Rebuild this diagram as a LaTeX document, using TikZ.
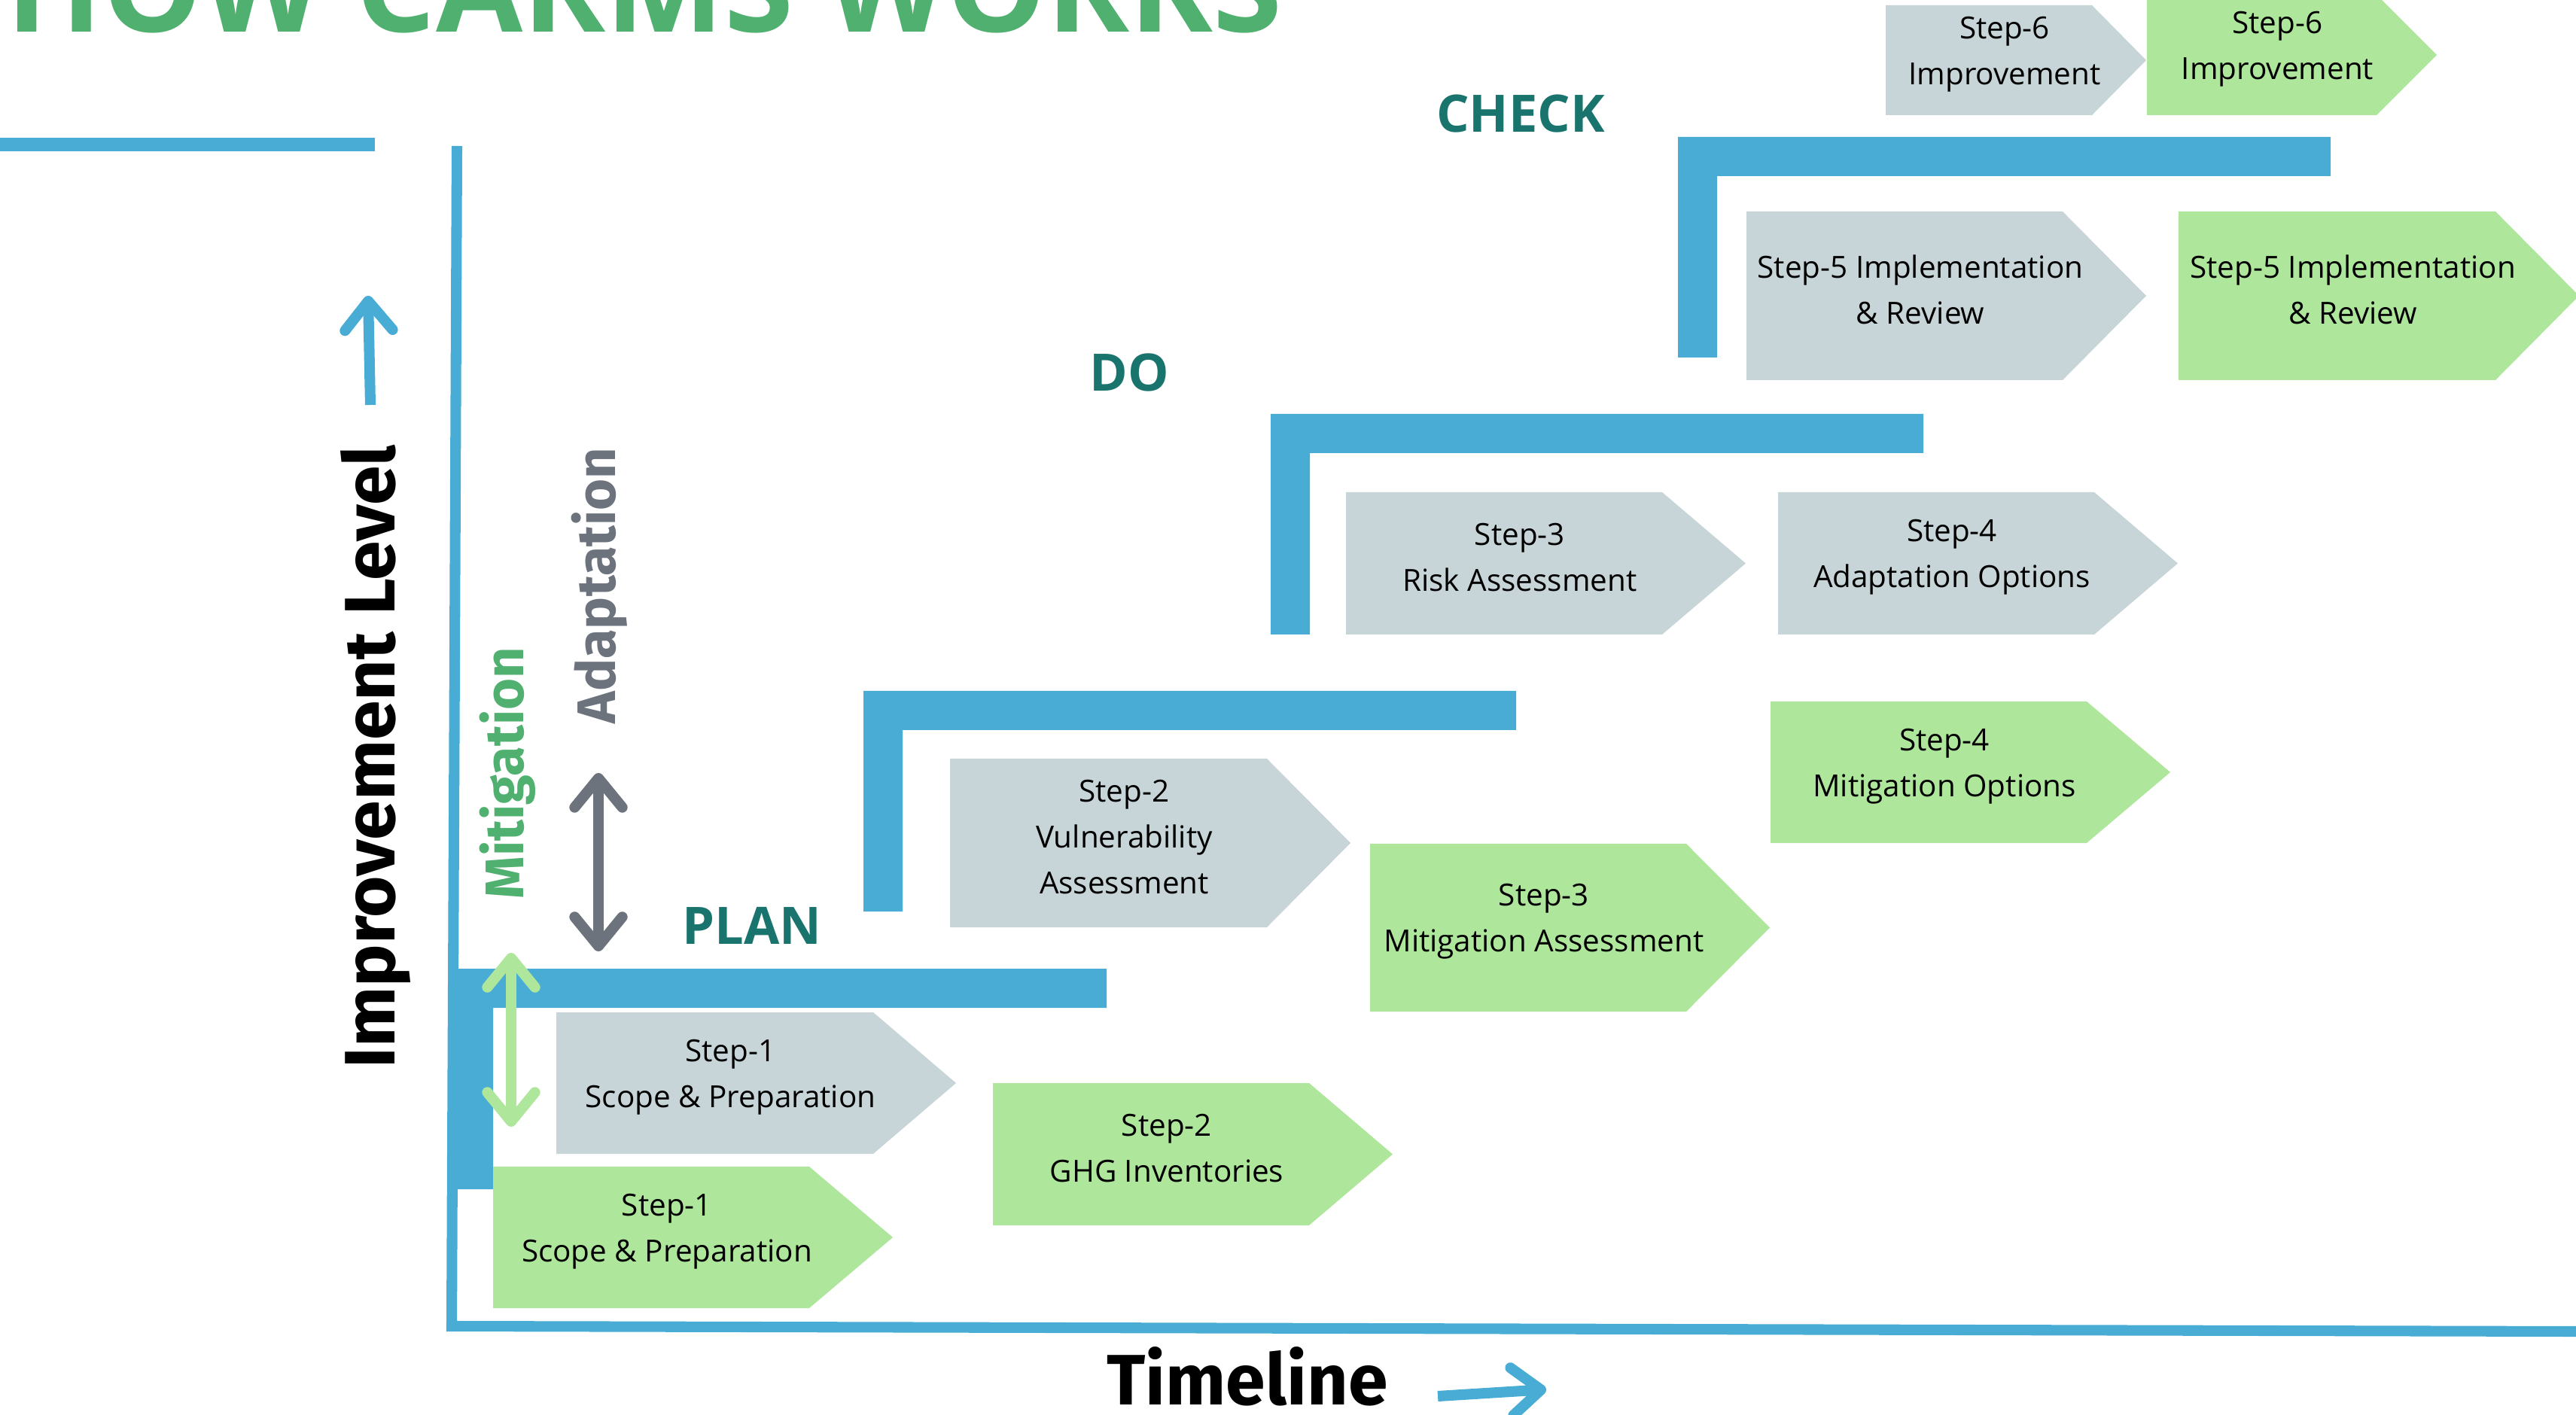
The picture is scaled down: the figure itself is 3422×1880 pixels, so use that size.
\documentclass[tikz,border=0pt]{standalone}
\usepackage{fontspec}
\setmainfont{Open Sans}
\newfontfamily\firafont{Fira Sans}
\usetikzlibrary{arrows.meta}

\definecolor{axisblue}{HTML}{48ACD4}
\definecolor{stepgray}{HTML}{C7D5D9}
\definecolor{stepgreen}{HTML}{AEE79C}
\definecolor{phaseteal}{HTML}{1A746E}
\definecolor{titlegreen}{HTML}{50B06F}
\definecolor{adaptgray}{HTML}{6D737D}

% chevron: name, left, top, body right, bottom, tip, fill, text
\newcommand{\stepchev}[8]{%
  \fill[#7] (#2,#3) -- (#4,#3) -- (#6,{(#3+#5)/2}) -- (#4,#5) -- (#2,#5) -- cycle;
  \node[steptext] (#1) at ({(#2+#4)/2+21},{(#3+#5)/2-8}) {#8};
}
% phase bracket from its top left corner
\newcommand{\phasebar}[2]{%
  \fill[axisblue] (#1,#2) -- ++(867,0) -- ++(0,52) -- ++(-815,0) -- ++(0,241) -- ++(-52,0) -- cycle;
}

\begin{document}
\begin{tikzpicture}[x=0.01cm,y=-0.01cm,
    steptext/.style={align=center,font=\fontsize{11.5}{17.4}\selectfont,inner sep=0pt},
    phase/.style={text=phaseteal,font=\fontsize{19.5}{23}\selectfont\bfseries,anchor=base,inner sep=0pt},
    axislabel/.style={font=\firafont\fontsize{27}{32}\selectfont\bfseries,anchor=base,inner sep=0pt},
    sidelabel/.style={font=\firafont\fontsize{20.5}{24}\selectfont\bfseries,anchor=base,rotate=90,inner sep=0pt},
    fatline/.style={line width=4pt},
    upbarb/.style={-{Straight Barb[length=11pt,width=18pt,round]}},
    bothbarb/.style={{Straight Barb[length=11pt,width=18pt,round]}-{Straight Barb[length=11pt,width=18pt,round]}}]

  \clip (0,0) rectangle (3422,1880);

  % title, cut at the top
  \node[anchor=base west,inner sep=0pt,text=titlegreen,font=\fontsize{47.5}{52}\selectfont\bfseries] (title) at (8,43) {HOW CARMS WORKS};
  \fill[axisblue] (0,183) rectangle (498,201);

  % axes
  \draw[axisblue,line width=4pt] (607,194) -- (600,1762) -- (3422,1769);

  % phase brackets
  \phasebar{603}{1287}
  \phasebar{1147}{918}
  \phasebar{1688}{550}
  \phasebar{2229}{182}

  \node[phase] (plan)  at (999,1254) {PLAN};
  \node[phase] (do)    at (1500,520) {DO};
  \node[phase] (check) at (2020,176) {CHECK};

  % steps
  \stepchev{sOneGray}{739}{1345}{1160}{1533}{1270}{stepgray}{Step-1\\Scope \& Preparation}
  \stepchev{sOneGreen}{655}{1550}{1075}{1738}{1186}{stepgreen}{Step-1\\Scope \& Preparation}
  \stepchev{sTwoGreen}{1319}{1439}{1739}{1628}{1850}{stepgreen}{Step-2\\GHG Inventories}
  \stepchev{sTwoGray}{1262}{1008}{1683}{1232}{1794}{stepgray}{Step-2\\Vulnerability\\Assessment}
  \stepchev{sThreeGreen}{1820}{1121}{2240}{1344}{2351}{stepgreen}{Step-3\\Mitigation Assessment}
  \stepchev{sThreeGray}{1788}{654}{2208}{843}{2319}{stepgray}{Step-3\\Risk Assessment}
  \stepchev{sFourGray}{2362}{654}{2782}{843}{2893}{stepgray}{Step-4\\Adaptation Options}
  \stepchev{sFourGreen}{2352}{932}{2772}{1120}{2883}{stepgreen}{Step-4\\Mitigation Options}
  \stepchev{sFiveGray}{2320}{281}{2740}{505}{2851}{stepgray}{Step-5 Implementation\\\& Review}
  \stepchev{sFiveGreen}{2894}{281}{3315}{505}{3426}{stepgreen}{Step-5 Implementation\\\& Review}
  \stepchev{sSixGray}{2505}{7}{2779}{153}{2851}{stepgray}{Step-6\\Improvement}
  \stepchev{sSixGreen}{2852}{-7}{3157}{153}{3237}{stepgreen}{Step-6\\Improvement}

  % axis labels
  \node[axislabel,rotate=90] (ylabel) at (524,1005) {Improvement Level};
  \node[axislabel] (xlabel) at (1657,1866) {Timeline};
  \node[sidelabel,text=titlegreen] (mitlabel) at (695,1027) {Mitigation};
  \node[sidelabel,text=adaptgray] (adaptlabel) at (817,778) {Adaptation};

  % arrows
  \coordinate (upA) at (492,538);
  \coordinate (upB) at (489,393);
  \coordinate (tlA) at (1910,1855);
  \coordinate (tlB) at (2054,1846);
  \coordinate (adA) at (795,1027);
  \coordinate (adB) at (795,1264);
  \coordinate (mtA) at (679,1266);
  \coordinate (mtB) at (679,1497);

  \draw[axisblue,fatline,upbarb] (upA) -- (upB);
  \draw[axisblue,fatline,upbarb] (tlA) -- (tlB);
  \draw[adaptgray,fatline,bothbarb] (adA) -- (adB);
  \draw[stepgreen,fatline,bothbarb] (mtA) -- (mtB);
\end{tikzpicture}
\end{document}
